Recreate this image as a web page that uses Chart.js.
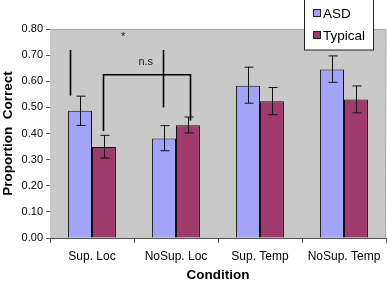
<!DOCTYPE html>
<html>
<head>
<meta charset="utf-8">
<script src="https://cdn.jsdelivr.net/npm/chart.js@4"></script>
<style>
  html, body { margin: 0; padding: 0; background: #fff; }
  #wrap { width: 387px; height: 283px; position: relative; }
</style>
</head>
<body>
<div id="wrap"><canvas id="myChart" width="387" height="283"></canvas></div>
<script>
// chart values
var conditions = ['Sup. Loc', 'NoSup. Loc', 'Sup. Temp', 'NoSup. Temp'];
var seriesNames = ['ASD', 'Typical'];
var asdValues = [0.487, 0.381, 0.583, 0.645];
var typicalValues = [0.348, 0.432, 0.523, 0.530];
var asdErrLow = [0.431, 0.334, 0.516, 0.596];
var asdErrHigh = [0.543, 0.430, 0.654, 0.697];
var typicalErrLow = [0.306, 0.402, 0.472, 0.479];
var typicalErrHigh = [0.393, 0.463, 0.576, 0.582];
var yTicks = [0, 0.1, 0.2, 0.3, 0.4, 0.5, 0.6, 0.7, 0.8];

// significance markings, in category / value units (0 = centre of first category)
var sigLines = [
    [[-0.26, 0.72], [-0.26, 0.545]],
    [[0.13, 0.41], [0.13, 0.625], [1.17, 0.625], [1.17, 0.45]],
    [[0.845, 0.72], [0.845, 0.50]]
];
var sigTexts = [['*', 0.37, 0.77], ['n.s', 0.64, 0.675]];

var colors = ['#a3a3f7', '#9e3a6c'];

// gray plot background, error bars and significance lines
var extras = {
    id: 'extras',
    beforeDatasetsDraw: function (chart) {
        var a = chart.chartArea, ctx = chart.ctx;
        ctx.save();
        ctx.fillStyle = '#c9c9c9';
        ctx.fillRect(a.left, a.top, a.right - a.left, a.bottom - a.top);
        ctx.strokeStyle = '#a8a8a8';
        ctx.lineWidth = 1;
        ctx.beginPath();
        ctx.moveTo(a.left, a.top + 0.5);
        ctx.lineTo(a.right, a.top + 0.5);
        ctx.lineTo(a.right - 0.5, a.bottom);
        ctx.stroke();
        ctx.restore();
    },
    afterDatasetsDraw: function (chart) {
        var ctx = chart.ctx, x = chart.scales.x, y = chart.scales.y;
        var lows = [asdErrLow, typicalErrLow], highs = [asdErrHigh, typicalErrHigh];
        ctx.save();
        ctx.strokeStyle = '#111';
        ctx.lineWidth = 1;
        for (var d = 0; d < 2; d++) {
            var meta = chart.getDatasetMeta(d);
            meta.data.forEach(function (bar, i) {
                var cx = Math.round(bar.x) + 0.5;
                var y1 = y.getPixelForValue(lows[d][i]), y2 = y.getPixelForValue(highs[d][i]);
                ctx.beginPath();
                ctx.moveTo(cx, y1); ctx.lineTo(cx, y2);
                ctx.moveTo(cx - 4, y1); ctx.lineTo(cx + 5, y1);
                ctx.moveTo(cx - 4, y2); ctx.lineTo(cx + 5, y2);
                ctx.stroke();
            });
        }
        // significance lines
        var step = x.getPixelForValue(1) - x.getPixelForValue(0);
        var x0 = x.getPixelForValue(0);
        ctx.strokeStyle = '#000';
        ctx.lineWidth = 1.6;
        sigLines.forEach(function (pts) {
            ctx.beginPath();
            pts.forEach(function (p, k) {
                var px = Math.round(x0 + p[0] * step) + 0.5;
                var py = y.getPixelForValue(p[1]);
                if (k === 0) ctx.moveTo(px, py); else ctx.lineTo(px, py);
            });
            ctx.stroke();
        });
        ctx.fillStyle = '#222';
        ctx.font = '11px "Liberation Sans", Arial';
        ctx.textAlign = 'center';
        ctx.textBaseline = 'middle';
        sigTexts.forEach(function (t) {
            ctx.fillText(t[0], x0 + t[1] * step, y.getPixelForValue(t[2]));
        });
        ctx.restore();
    },
    afterDraw: function (chart) {
        // legend box in upper right
        var ctx = chart.ctx;
        ctx.save();
        ctx.fillStyle = '#fff';
        ctx.fillRect(304.5, -1, 69, 51);
        ctx.strokeStyle = '#222';
        ctx.lineWidth = 1;
        ctx.strokeRect(304.5, -1, 69, 51);
        ctx.font = '13.5px "Liberation Sans", Arial';
        ctx.textBaseline = 'middle';
        ctx.textAlign = 'left';
        seriesNames.forEach(function (name, i) {
            var cy = 13 + i * 22;
            ctx.fillStyle = colors[i];
            ctx.fillRect(313, cy - 4, 8, 8);
            ctx.strokeStyle = '#222';
            ctx.strokeRect(313.5, cy - 3.5, 7, 7);
            ctx.fillStyle = '#000';
            ctx.fillText(name, 323, cy + 1);
        });
        ctx.restore();
    }
};

var ctx = document.getElementById('myChart').getContext('2d');
var myChart = new Chart(ctx, {
    type: 'bar',
    data: {
        labels: conditions,
        datasets: [
            { label: seriesNames[0], data: asdValues, backgroundColor: colors[0], borderColor: '#111', borderWidth: 1 },
            { label: seriesNames[1], data: typicalValues, backgroundColor: colors[1], borderColor: '#111', borderWidth: 1 }
        ]
    },
    options: {
        responsive: false,
        animation: false,
        layout: { padding: { top: 29, right: 1, left: 0, bottom: 0 } },
        datasets: { bar: { categoryPercentage: 0.57, barPercentage: 1 } },
        plugins: { legend: { display: false }, tooltip: { enabled: false } },
        scales: {
            x: {
                grid: { display: true, drawOnChartArea: false, offset: true, tickLength: 5, color: '#555' },
                border: { color: '#555' },
                ticks: { color: '#000', font: { family: '"Liberation Sans", Arial', size: 12 }, padding: 6 },
                title: { display: true, text: 'Condition', color: '#000', font: { family: '"Liberation Sans", Arial', size: 13.5, weight: 'bold' }, padding: { top: 7, bottom: 0 } },
                afterFit: function (s) { s.height = 45; }
            },
            y: {
                min: 0, max: 0.8,
                afterBuildTicks: function (s) { s.ticks = yTicks.map(function (v) { return { value: v }; }); },
                grid: { display: true, drawOnChartArea: false, tickLength: 4, color: '#555' },
                border: { color: '#555' },
                ticks: {
                    color: '#000', font: { family: '"Liberation Sans", Arial', size: 11 }, padding: 3,
                    callback: function (v) { return Number(v).toFixed(2); }
                },
                title: { display: true, text: 'Proportion  Correct', color: '#000', font: { family: '"Liberation Sans", Arial', size: 13.5, weight: 'bold' }, padding: { top: 0, bottom: 4 } },
                afterFit: function (s) { s.width = 50; }
            }
        }
    },
    plugins: [extras]
});
</script>
</body>
</html>
